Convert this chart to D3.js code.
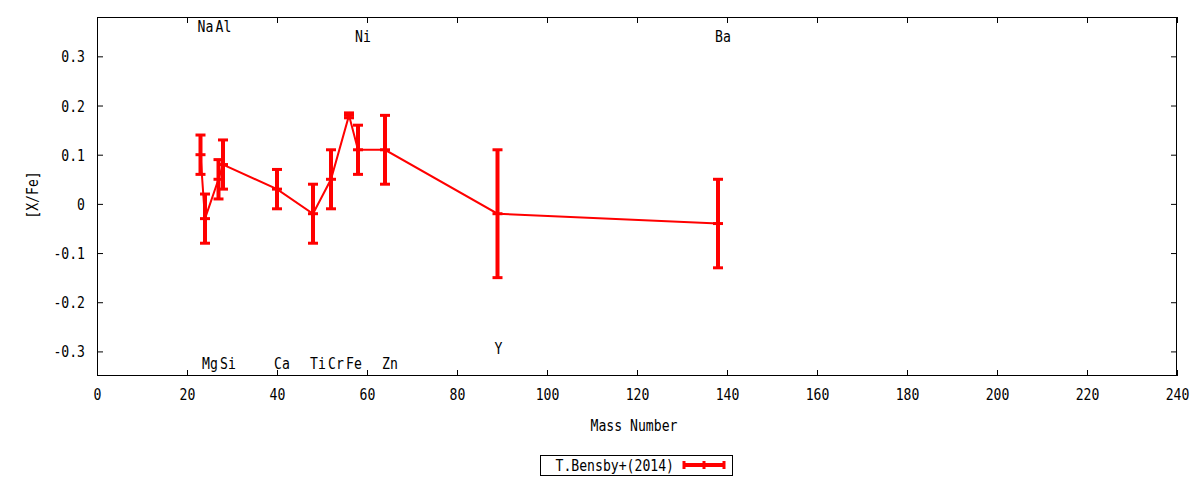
<!DOCTYPE html>
<html>
<head>
<meta charset="utf-8">
<script src="https://cdn.jsdelivr.net/npm/d3@7"></script>
<style>
  body { margin: 0; background: #fff; }
  text { font-family: "DejaVu Sans Mono", monospace; font-size: 15px; fill: #000; }
</style>
</head>
<body>
<svg id="chart" width="1200" height="480"></svg>
<script>
// ---- data ----
const elements   = ["Na", "Mg", "Al", "Si", "Ca", "Ti", "Cr", "Fe", "Ni", "Zn", "Y", "Ba"];
const massNumber = [23, 24, 27, 28, 40, 48, 52, 56, 58, 64, 89, 138];
const xFe        = [0.10, -0.03, 0.05, 0.08, 0.03, -0.02, 0.05, 0.18, 0.11, 0.11, -0.02, -0.04];
const errLow     = [0.06, -0.08, 0.01, 0.03, -0.01, -0.08, -0.01, 0.175, 0.06, 0.04, -0.15, -0.13];
const errHigh    = [0.14, 0.02, 0.09, 0.13, 0.07, 0.04, 0.11, 0.185, 0.16, 0.18, 0.11, 0.05];
const labelY     = [0.355, -0.33, 0.355, -0.33, -0.33, -0.33, -0.33, -0.33, 0.335, -0.33, -0.30, 0.335];
const xTicks     = [0, 20, 40, 60, 80, 100, 120, 140, 160, 180, 200, 220, 240];
const yTicks     = [-0.3, -0.2, -0.1, 0, 0.1, 0.2, 0.3];
const yTickLabels = ["-0.3", "-0.2", "-0.1", "0", "0.1", "0.2", "0.3"];
const seriesName = "T.Bensby+(2014)";

(function () {
const svg = d3.select("#chart");
const L = 97, R = 1177, T = 17, B = 376;
const x = d3.scaleLinear().domain([0, 240]).range([L, R]);
const y = d3.scaleLinear().domain([-0.35, 0.38]).range([B, T]);
const CW = 7.9; // condensed character advance
const condense = sel => sel.each(function () {
  const t = d3.select(this);
  const s = t.text();
  t.attr("textLength", s.length * CW).attr("lengthAdjust", "spacingAndGlyphs");
});

// axes (ticks inward, mirrored)
const tickLen = 6;
const gBottom = svg.append("g").attr("transform", `translate(0,${B})`)
  .call(d3.axisBottom(x).tickValues(xTicks).tickSize(-tickLen).tickFormat(d3.format("d")));
const gTop = svg.append("g").attr("transform", `translate(0,${T})`)
  .call(d3.axisTop(x).tickValues(xTicks).tickSize(-tickLen).tickFormat(""));
const gLeft = svg.append("g").attr("transform", `translate(${L},0)`)
  .call(d3.axisLeft(y).tickValues(yTicks).tickSize(-tickLen)
    .tickFormat((d, i) => yTickLabels[i]));
const gRight = svg.append("g").attr("transform", `translate(${R},0)`)
  .call(d3.axisRight(y).tickValues(yTicks).tickSize(-tickLen).tickFormat(""));
[gBottom, gTop, gLeft, gRight].forEach(g => {
  g.select(".domain").remove();
  g.selectAll("line").attr("stroke", "#000");
  g.selectAll("text").style("font-family", "DejaVu Sans Mono, monospace").style("font-size", "15px");
});
gBottom.selectAll("text").attr("y", 24).attr("dy", null);
gLeft.selectAll("text").attr("x", -12).attr("dy", null).attr("y", 5.5);
gBottom.selectAll("text").call(condense);
gLeft.selectAll("text").call(condense);

svg.append("rect").attr("x", L + 0.5).attr("y", T + 0.5)
  .attr("width", R - L - 1).attr("height", B - T - 1)
  .attr("fill", "none").attr("stroke", "#000").attr("stroke-width", 1);

// axis titles
svg.append("text").attr("x", 634).attr("y", 430.5).attr("text-anchor", "middle").text("Mass Number").call(condense);
svg.append("text").attr("transform", "translate(38,195) rotate(-90)").attr("text-anchor", "middle").text("[X/Fe]").call(condense);

// data
const data = elements.map((e, i) => ({ el: e, a: massNumber[i], v: xFe[i], lo: errLow[i], hi: errHigh[i], ly: labelY[i] }));
const red = "#ff0000";

svg.append("path").datum(data)
  .attr("fill", "none").attr("stroke", red).attr("stroke-width", 2)
  .attr("d", d3.line().x(d => x(d.a)).y(d => y(d.v)));

const eb = svg.append("g").selectAll("g").data(data).join("g");
eb.append("line").attr("x1", d => x(d.a)).attr("x2", d => x(d.a))
  .attr("y1", d => y(d.lo)).attr("y2", d => y(d.hi)).attr("stroke", red).attr("stroke-width", 4);
const capW = 5;
["lo", "hi", "v"].forEach(k => {
  eb.append("line").attr("x1", d => x(d.a) - capW).attr("x2", d => x(d.a) + capW)
    .attr("y1", d => y(d[k])).attr("y2", d => y(d[k])).attr("stroke", red).attr("stroke-width", 3);
});

// element labels
svg.append("g").selectAll("text").data(data).join("text")
  .attr("x", d => x(d.a) - 3).attr("y", d => y(d.ly) + 3)
  .attr("text-anchor", "start").text(d => d.el).call(condense);

// legend
const lg = svg.append("g");
lg.append("rect").attr("x", 540.5).attr("y", 455.5).attr("width", 192).attr("height", 20)
  .attr("fill", "#fff").attr("stroke", "#000");
lg.append("text").attr("x", 674).attr("y", 471).attr("text-anchor", "end").text(seriesName).call(condense);
lg.append("line").attr("x1", 684).attr("x2", 724).attr("y1", 465).attr("y2", 465).attr("stroke", red).attr("stroke-width", 4);
[684, 704, 724].forEach(px => {
  lg.append("line").attr("x1", px).attr("x2", px).attr("y1", 461).attr("y2", 469).attr("stroke", red).attr("stroke-width", 3);
});
})();
</script>
</body>
</html>
